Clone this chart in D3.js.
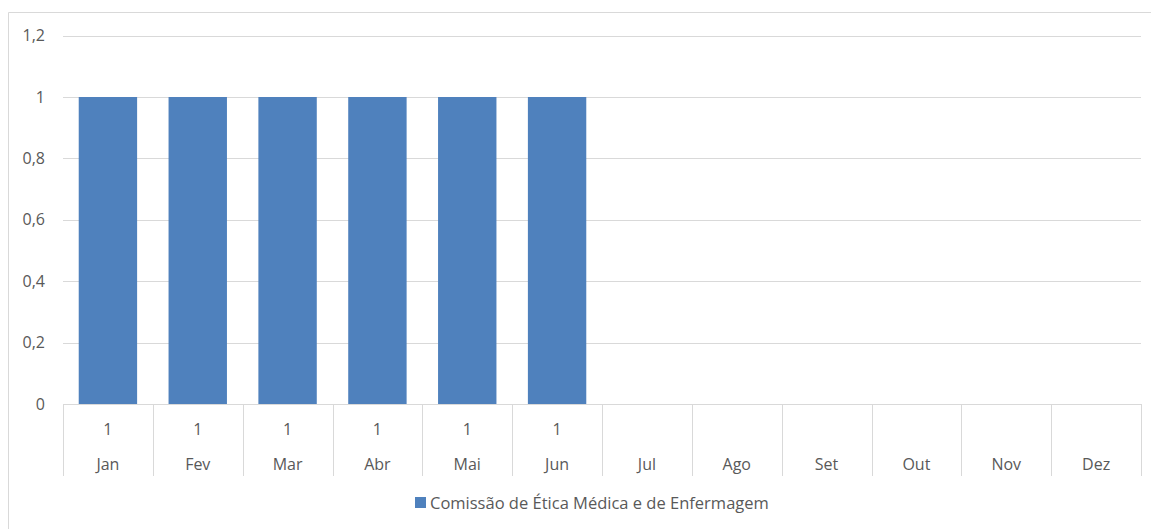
<!DOCTYPE html>
<html>
<head>
<meta charset="utf-8">
<script src="https://cdn.jsdelivr.net/npm/d3@7"></script>
<style>
  body { margin: 0; background: #fff; }
  svg text { font-family: "Open Sans", sans-serif; fill: #595959; }
</style>
</head>
<body>
<svg width="1151" height="529"></svg>
<script>
var months = ["Jan", "Fev", "Mar", "Abr", "Mai", "Jun", "Jul", "Ago", "Set", "Out", "Nov", "Dez"];
var values = [1, 1, 1, 1, 1, 1, null, null, null, null, null, null];
var yTicks = [0, 0.2, 0.4, 0.6, 0.8, 1, 1.2];
var seriesName = "Comissão de Ética Médica e de Enfermagem";

var svg = d3.select("svg"),
    plotLeft = 63, plotRight = 1141, plotTop = 35.6, plotBottom = 404;

var fmt = function(d) { return String(d).replace(".", ","); };

// chart frame (only top and left show in the picture)
svg.append("path")
    .attr("d", "M8.5,529 V12.5 H1151")
    .attr("fill", "none")
    .attr("stroke", "#d9d9d9");

var x = d3.scaleBand().domain(months).range([plotLeft, plotRight]).paddingInner(0.35).paddingOuter(0.175);
var xb = d3.scaleBand().domain(months).range([plotLeft, plotRight]);
var y = d3.scaleLinear().domain([0, 1.2]).range([plotBottom, plotTop]);

// gridlines
svg.append("g").selectAll("line")
    .data(yTicks.filter(function(d) { return d > 0; }))
    .enter().append("line")
    .attr("x1", plotLeft).attr("x2", plotRight)
    .attr("y1", function(d) { return Math.round(y(d)) + 0.5; })
    .attr("y2", function(d) { return Math.round(y(d)) + 0.5; })
    .attr("stroke", "#d9d9d9");

// y labels
svg.append("g").selectAll("text")
    .data(yTicks)
    .enter().append("text")
    .attr("x", 45)
    .attr("y", function(d) { return y(d); })
    .attr("dy", "0.35em")
    .attr("text-anchor", "end")
    .style("font-size", "16px")
    .text(fmt);

// bars
svg.append("g").selectAll("rect")
    .data(months.map(function(m, i) { return { m: m, v: values[i] }; }).filter(function(d) { return d.v != null; }))
    .enter().append("rect")
    .attr("x", function(d) { return x(d.m); })
    .attr("width", x.bandwidth())
    .attr("y", function(d) { return y(d.v); })
    .attr("height", function(d) { return y(0) - y(d.v); })
    .attr("fill", "#4f81bd");

// baseline + data table lines
svg.append("line")
    .attr("x1", plotLeft).attr("x2", plotRight)
    .attr("y1", plotBottom + 0.5).attr("y2", plotBottom + 0.5)
    .attr("stroke", "#d9d9d9");

svg.append("g").selectAll("line")
    .data(months.concat(["end"]))
    .enter().append("line")
    .attr("x1", function(d, i) { return Math.round(plotLeft + i * xb.bandwidth()) + 0.5; })
    .attr("x2", function(d, i) { return Math.round(plotLeft + i * xb.bandwidth()) + 0.5; })
    .attr("y1", plotBottom).attr("y2", 476)
    .attr("stroke", "#d9d9d9");

// table values
svg.append("g").selectAll("text")
    .data(months)
    .enter().append("text")
    .attr("x", function(d) { return xb(d) + xb.bandwidth() / 2; })
    .attr("y", 429)
    .attr("dy", "0.35em")
    .attr("text-anchor", "middle")
    .style("font-size", "16px")
    .text(function(d, i) { return values[i] == null ? "" : fmt(values[i]); });

// month labels
svg.append("g").selectAll("text")
    .data(months)
    .enter().append("text")
    .attr("x", function(d) { return xb(d) + xb.bandwidth() / 2; })
    .attr("y", 464)
    .attr("dy", "0.35em")
    .attr("text-anchor", "middle")
    .style("font-size", "16px")
    .text(function(d) { return d; });

// legend
var lg = svg.append("g");
lg.append("rect")
    .attr("x", 415).attr("y", 497)
    .attr("width", 11).attr("height", 11)
    .attr("fill", "#4f81bd");
lg.append("text")
    .attr("x", 430).attr("y", 503)
    .attr("dy", "0.35em")
    .style("font-size", "16.5px")
    .text(seriesName);
</script>
</body>
</html>
